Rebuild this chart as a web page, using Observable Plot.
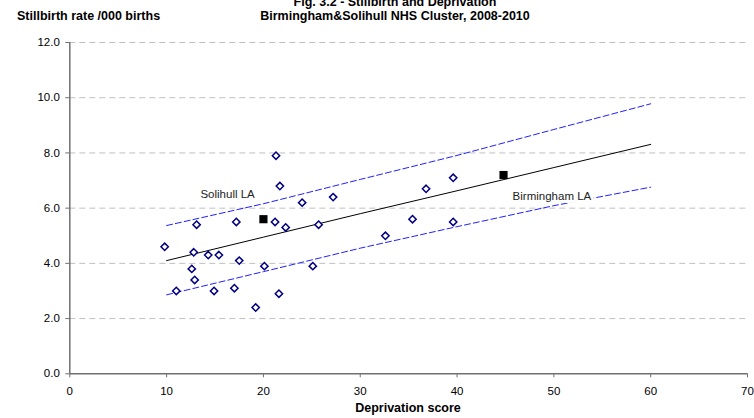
<!DOCTYPE html>
<html>
<head>
<meta charset="utf-8">
<script src="https://cdn.jsdelivr.net/npm/d3@7"></script>
<script src="https://cdn.jsdelivr.net/npm/@observablehq/plot@0.6"></script>
<style>
  html, body { margin: 0; padding: 0; background: #fff; }
  #chart svg { display: block; }
</style>
</head>
<body>
<div id="chart"></div>
<script>
// ---- text ----
const titleLine1 = "Fig. 3.2 - Stillbirth and Deprivation";
const titleLine2 = "Birmingham&Solihull NHS Cluster, 2008-2010";
const yAxisTitle = "Stillbirth rate /000 births";
const xAxisTitle = "Deprivation score";

// ---- ward-level points (deprivation score, stillbirth rate /000) ----
const wardScore = [21.3, 21.7, 24.0, 27.2, 13.1, 17.2, 21.2, 22.3, 25.7, 9.8,
                   12.8, 14.3, 15.4, 17.5, 12.6, 20.1, 25.1, 12.9, 11.0, 14.9,
                   17.0, 21.6, 19.2, 39.6, 36.8, 35.4, 39.6, 32.6];
const wardRate  = [7.9, 6.8, 6.2, 6.4, 5.4, 5.5, 5.5, 5.3, 5.4, 4.6,
                   4.4, 4.3, 4.3, 4.1, 3.8, 3.9, 3.9, 3.4, 3.0, 3.0,
                   3.1, 2.9, 2.4, 7.1, 6.7, 5.6, 5.5, 5.0];

// ---- local authority totals ----
const laNames = ["Solihull LA", "Birmingham LA"];
const laScore = [20.0, 44.8];
const laRate  = [5.6, 7.2];
const laLabelScore = [16.3, 49.8];
const laLabelRate  = [6.5, 6.43];

// ---- fitted trend and limits ----
const fitScore = [10, 20, 30, 40, 50, 60];
const fitRate  = [4.10, 4.95, 5.80, 6.63, 7.47, 8.31];
const upperRate = [5.37, 6.16, 7.04, 7.91, 8.85, 9.78];
const lowerRate = [2.86, 3.70, 4.55, 5.33, 6.09, 6.76];

// ---- ticks ----
const xTicks = [0, 10, 20, 30, 40, 50, 60, 70];
const yTicks = [0, 2, 4, 6, 8, 10, 12];

const wards = wardScore.map((s, i) => ({score: s, rate: wardRate[i]}));
const las = laNames.map((n, i) => ({name: n, score: laScore[i], rate: laRate[i], lx: laLabelScore[i], ly: laLabelRate[i]}));
const fit = fitScore.map((s, i) => ({score: s, fit: fitRate[i], upper: upperRate[i], lower: lowerRate[i]}));

const FONT = "'Liberation Sans', Arial, sans-serif";

const chart = Plot.plot({
  width: 754,
  height: 418,
  marginLeft: 69.3,
  marginRight: 7,
  marginTop: 42,
  marginBottom: 44.7,
  style: {fontFamily: FONT, fontSize: "11.5px", background: "white", color: "black"},
  x: {domain: [0, 70]},
  y: {domain: [0, 12]},
  marks: [
    Plot.ruleY(yTicks.filter(d => d > 0), {stroke: "#c0c0c0", strokeWidth: 1, strokeDasharray: "6,4"}),
    Plot.line(fit, {x: "score", y: "upper", stroke: "#2020ff", strokeWidth: 1, strokeDasharray: "6,3", curve: "linear"}),
    Plot.line(fit, {x: "score", y: "lower", stroke: "#2020ff", strokeWidth: 1, strokeDasharray: "6,3", curve: "linear"}),
    Plot.line(fit, {x: "score", y: "fit", stroke: "black", strokeWidth: 1}),
    Plot.dot(wards, {x: "score", y: "rate", symbol: "diamond2", r: 3.3, stroke: "#000080", fill: "white", strokeWidth: 1.5}),
    Plot.dot(las, {x: "score", y: "rate", symbol: "square", r: 4.6, fill: "black", stroke: "none"}),
    Plot.text(las, {x: "lx", y: "ly", text: "name", fontSize: 11.5, fill: "#222", stroke: "white", strokeWidth: 6, textAnchor: "middle"}),
    Plot.axisY({ticks: yTicks, tickFormat: d3.format(".1f"), tickSize: 4, tickPadding: 6, label: null, stroke: "#707070", fill: "black", fontSize: 11.5}),
    Plot.axisX({ticks: xTicks, tickFormat: d => String(d), tickSize: 4, tickPadding: 9.5, label: null, stroke: "#707070", fill: "black", fontSize: 11.5}),
    Plot.ruleX([0], {stroke: "#707070", strokeWidth: 1.5}),
    Plot.ruleY([0], {stroke: "#707070", strokeWidth: 1.5})
  ]
});

document.getElementById("chart").appendChild(chart);

const svg = d3.select(chart);
const tg = svg.append("g").attr("font-family", FONT).attr("font-weight", "bold").attr("font-size", "12.5px").attr("fill", "black");
tg.append("text").attr("x", 395).attr("y", 5.5).attr("text-anchor", "middle").text(titleLine1);
tg.append("text").attr("x", 395).attr("y", 19.5).attr("text-anchor", "middle").text(titleLine2);
tg.append("text").attr("x", 17).attr("y", 19.5).attr("text-anchor", "start").text(yAxisTitle);
tg.append("text").attr("x", 408).attr("y", 412).attr("text-anchor", "middle").text(xAxisTitle);
</script>
</body>
</html>
